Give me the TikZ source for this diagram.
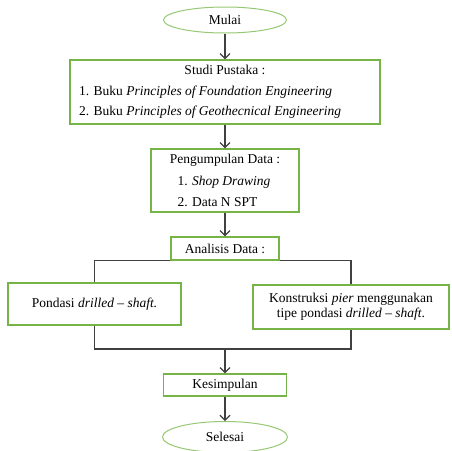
\documentclass[tikz,border=0pt]{standalone}
\usepackage{fontspec}
\setmainfont{Liberation Serif}
\usetikzlibrary{shapes.geometric,arrows.meta,positioning}
\definecolor{boxgreen}{RGB}{118,180,72}
\definecolor{termgreen}{RGB}{150,200,115}
\definecolor{linegray}{RGB}{64,64,64}

\begin{document}
\begin{tikzpicture}[x=1pt,y=-1pt,
    font=\fontsize{13.5}{15}\selectfont,
    box/.style={draw=boxgreen,line width=1.2pt,inner sep=0pt},
    term/.style={ellipse,draw=termgreen,line width=1pt,inner sep=0pt},
    arr/.style={linegray,line width=1.2pt,-{Straight Barb[length=5pt,width=10pt]}},
    link/.style={draw=linegray,line width=1.2pt}]
    \clip (0,0) rectangle (452,450);

    \node[term,minimum width=123pt,minimum height=26pt] (mulai) at (225,20) {Mulai};
    \node[box,minimum width=310pt,minimum height=64pt,align=center,
          font=\fontsize{13.5}{20.5}\selectfont] (studi) at (225,92)
          {Studi Pustaka :\\
           \makebox[292pt][l]{1. Buku \textit{Principles of Foundation Engineering}}\\
           \makebox[292pt][l]{2. Buku \textit{Principles of Geothecnical Engineering}}};
    \node[box,minimum width=148pt,minimum height=63pt,align=center,
          font=\fontsize{13.5}{21.5}\selectfont] (data) at (225,180.5)
          {Pengumpulan Data :\\
           \makebox[95pt][l]{1. \textit{Shop Drawing}}\\
           \makebox[95pt][l]{2. Data N SPT}};
    \node[box,minimum width=108pt,minimum height=23pt] (analisis) at (225,248.5) {Analisis Data :};
    \node[box,minimum width=173pt,minimum height=42pt] (pondasi) at (94.5,304)
          {Pondasi \textit{drilled -- shaft.}};
    \node[box,minimum width=196pt,minimum height=44pt,align=center] (pier) at (351,307)
          {Konstruksi \textit{pier} menggunakan\\ tipe pondasi \textit{drilled -- shaft}.};
    \node[box,minimum width=123pt,minimum height=22pt] (simpul) at (225,385) {Kesimpulan};
    \node[term,minimum width=125pt,minimum height=31pt] (selesai) at (225,437) {Selesai};
    \coordinate (gabung) at (225,349);

    % arrows down the middle
    \path[arr] (mulai) edge (studi)
               (studi) edge (data)
               (data) edge (analisis)
               (gabung) edge (simpul)
               (simpul) edge (selesai);
    % split and join
    \draw[link] (analisis.south west) -| (pondasi.north);
    \draw[link] (analisis.south east) -| (pier.north);
    \draw[link] (pondasi.south) |- (gabung) -| (pier.south);
\end{tikzpicture}
\end{document}
